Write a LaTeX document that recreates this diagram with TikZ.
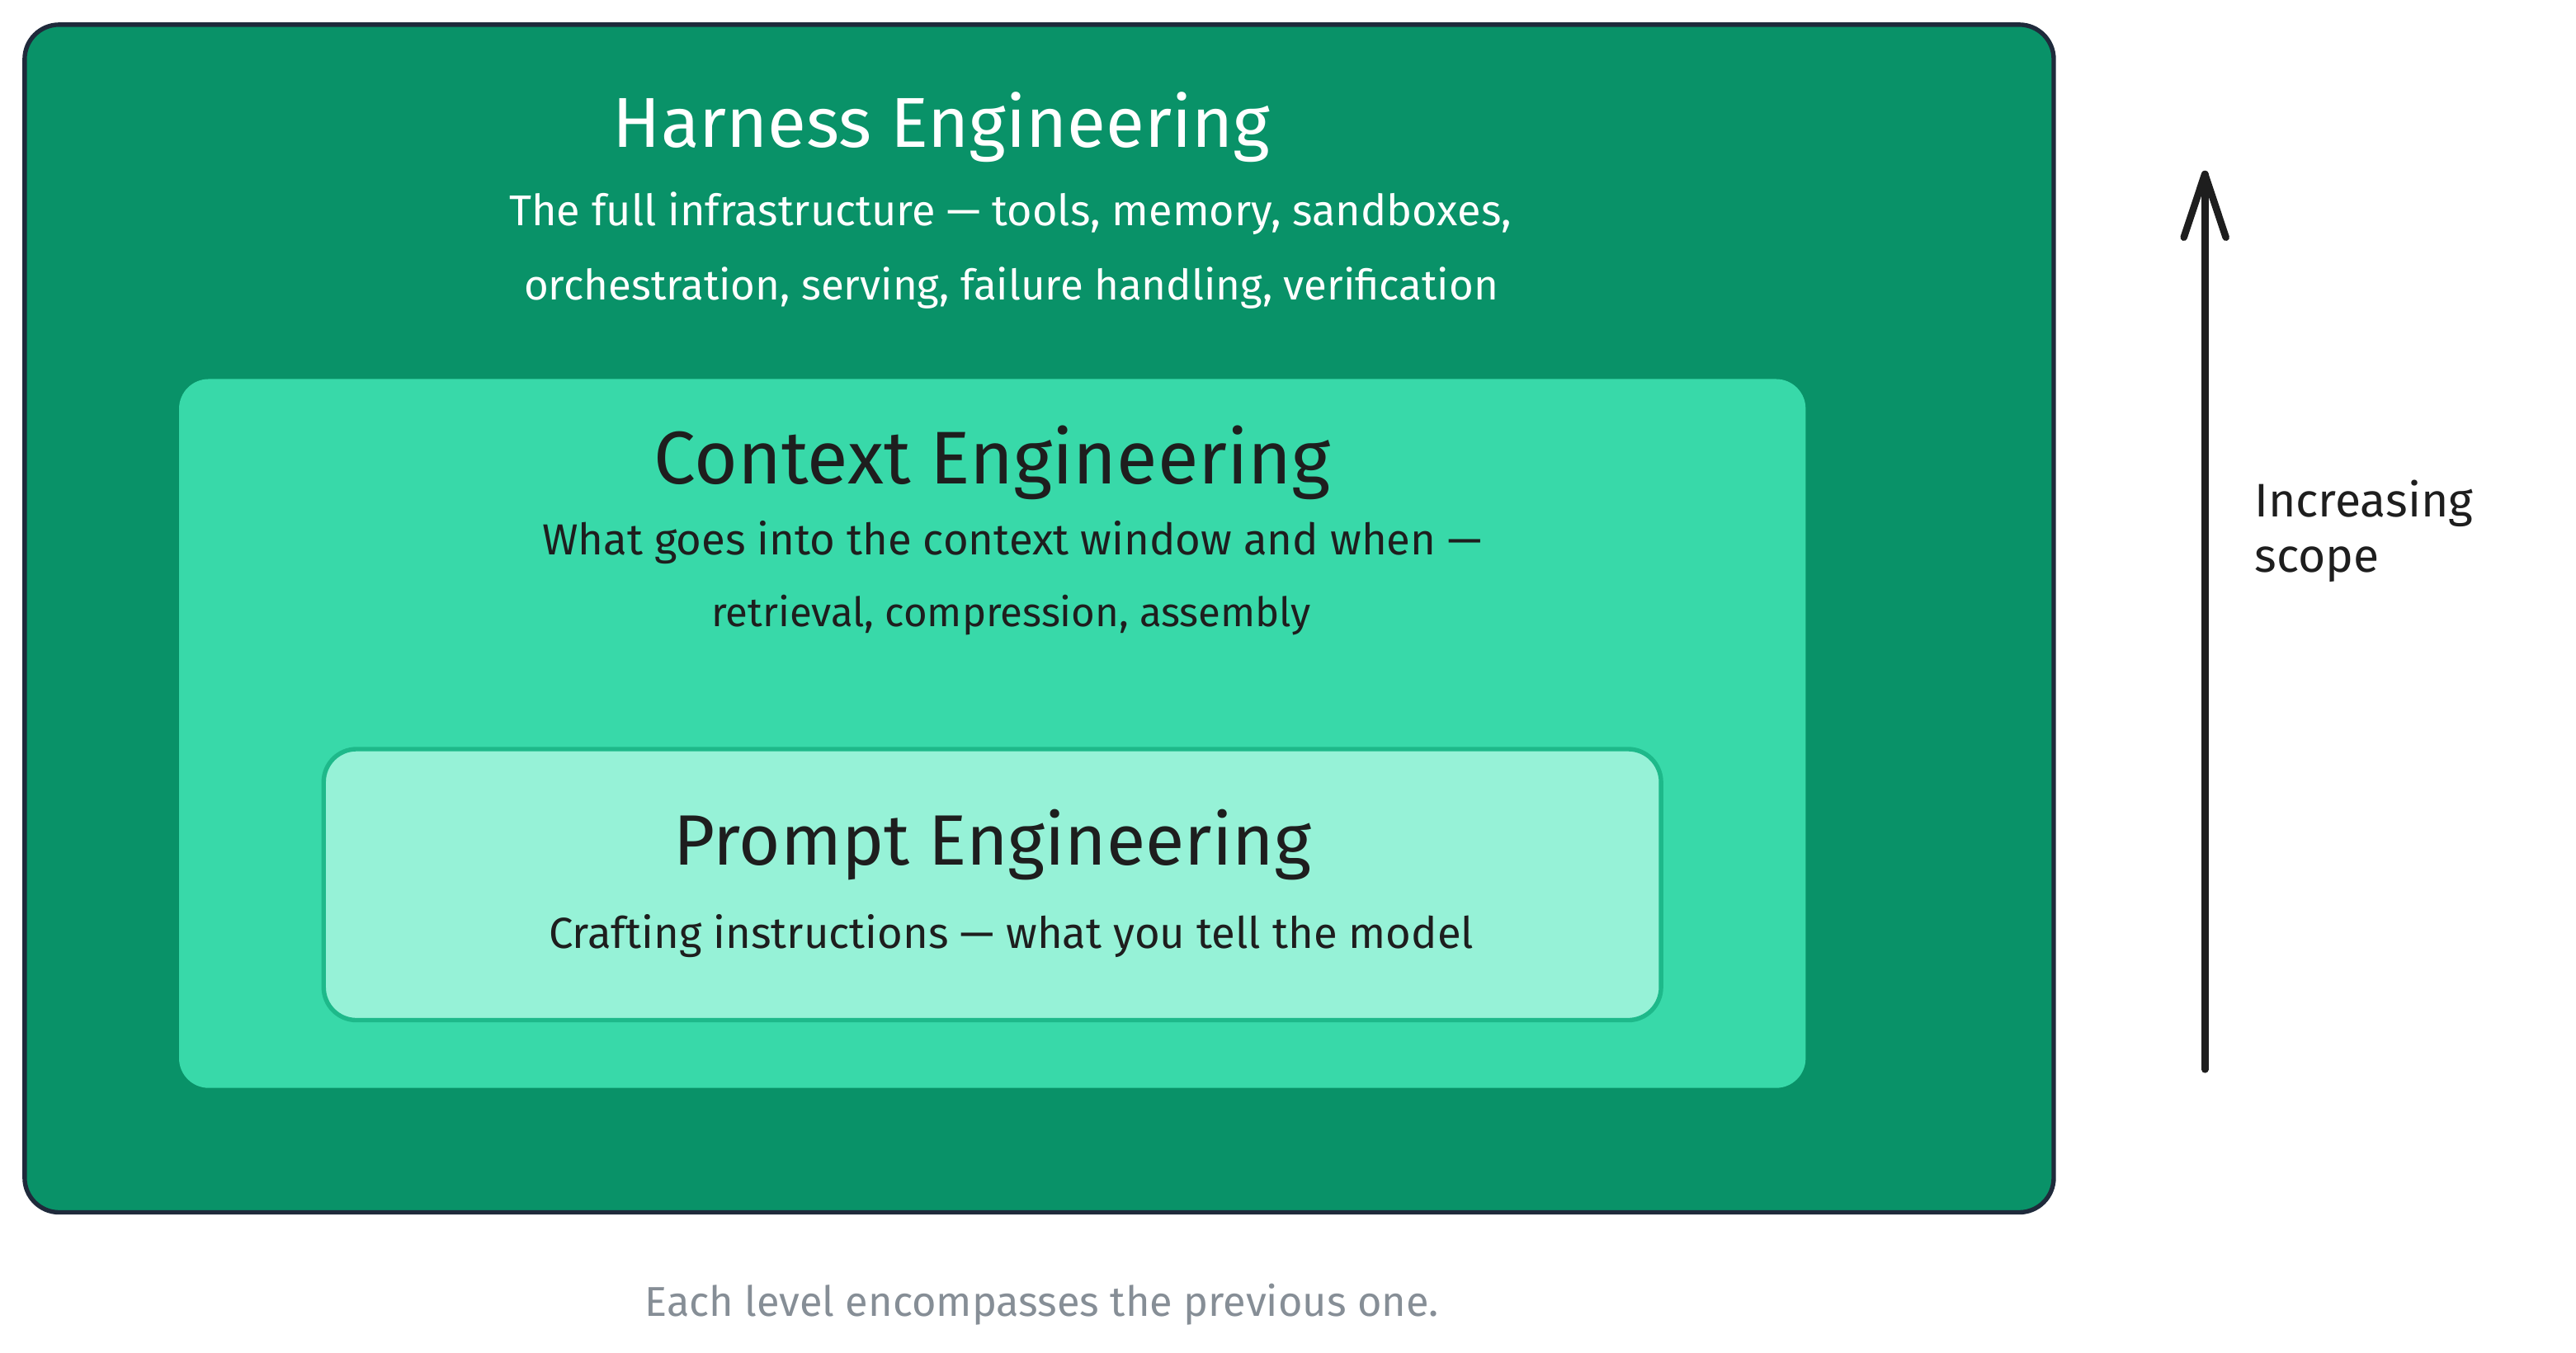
\documentclass[tikz,border=0pt]{standalone}
\usepackage{fontspec}
\setmainfont{Fira Sans}
\definecolor{outerfill}{HTML}{099268}
\definecolor{outerdraw}{HTML}{1F2A3B}
\definecolor{ctxfill}{HTML}{38D9A9}
\definecolor{prfill}{HTML}{96F2D7}
\definecolor{prdraw}{HTML}{1EB98A}
\definecolor{ink}{HTML}{1E1E1E}
\definecolor{capgrey}{HTML}{868E96}
\newlength\fitlen
\newcommand\fitas[3]{\settowidth\fitlen{\fontsize{10pt}{12pt}\selectfont #2}\pgfmathsetmacro\fitfs{10*#1/\fitlen}\fontsize{\fitfs}{\fitfs}\selectfont #3}
\newcommand\fitw[2]{\fitas{#1}{#2}{#2}}
\tikzset{
  layerbox/.style={rectangle, rounded corners=19pt, inner sep=0pt},
  txt/.style={inner sep=0pt, anchor=base},
  scopearrow/.style={draw=ink, line width=4.3pt, line cap=round, line join=round}
}
\begin{document}
\begin{tikzpicture}[x=1pt,y=-1pt]
\useasboundingbox (0,0) rectangle (1561,819.5);
\begin{scope}[transform canvas={scale=0.9956}]
\node[layerbox, rounded corners=21pt, fill=outerfill, draw=outerdraw, line width=2.7pt, minimum width=1235pt, minimum height=723pt] (outer) at (632.5,376.5) {};
\node[layerbox, rounded corners=18pt, fill=ctxfill, minimum width=990pt, minimum height=431.5pt] (context) at (604,446.5) {};
\node[layerbox, rounded corners=20pt, fill=prfill, draw=prdraw, line width=2.7pt, minimum width=814pt, minimum height=165pt] (prompt) at (604,538.5) {};

\node[txt, text=white] (htitle) at (573,89.5) {\fitw{400}{Harness Engineering}};
\node[txt, text=white] (hsub1) at (615,137.5) {\fitw{610}{The full infrastructure — tools, memory, sandboxes,}};
\node[txt, text=white] (hsub2) at (615.5,182.5) {\fitw{593}{orchestration, serving, failure handling, verification}};

\node[txt, text=ink] (ctitle) at (604,294.5) {\fitw{412}{Context Engineering}};
\node[txt, text=ink] (csub1) at (616,337.5) {\fitw{572}{What goes into the context window and when —}};
\node[txt, text=ink] (csub2) at (615.5,381.5) {\fitw{365}{retrieval, compression, assembly}};

\node[txt, text=ink] (ptitle) at (604,526.5) {\fitw{388}{Prompt Engineering}};
\node[txt, text=ink] (psub) at (615.5,577.5) {\fitw{563}{Crafting instructions — what you tell the model}};

\coordinate (arrbot) at (1342,651);
\coordinate (arrtop) at (1342,106);
\coordinate (wingl) at (1329.2,144.5);
\coordinate (wingr) at (1354.8,144.5);
\draw[scopearrow] (arrbot) -- (arrtop);
\draw[scopearrow] (wingl) -- (arrtop) -- (wingr);

\node[inner sep=0pt, anchor=base west, text=ink] (inc1) at (1372,314.5) {\fitw{133}{Increasing}};
\node[inner sep=0pt, anchor=base west, text=ink] (inc2) at (1372,348.5) {\fitas{133}{Increasing}{scope}};

\node[txt, text=capgrey] (caption) at (634,801.5) {\fitw{483}{Each level encompasses the previous one.}};
\end{scope}
\end{tikzpicture}
\end{document}
